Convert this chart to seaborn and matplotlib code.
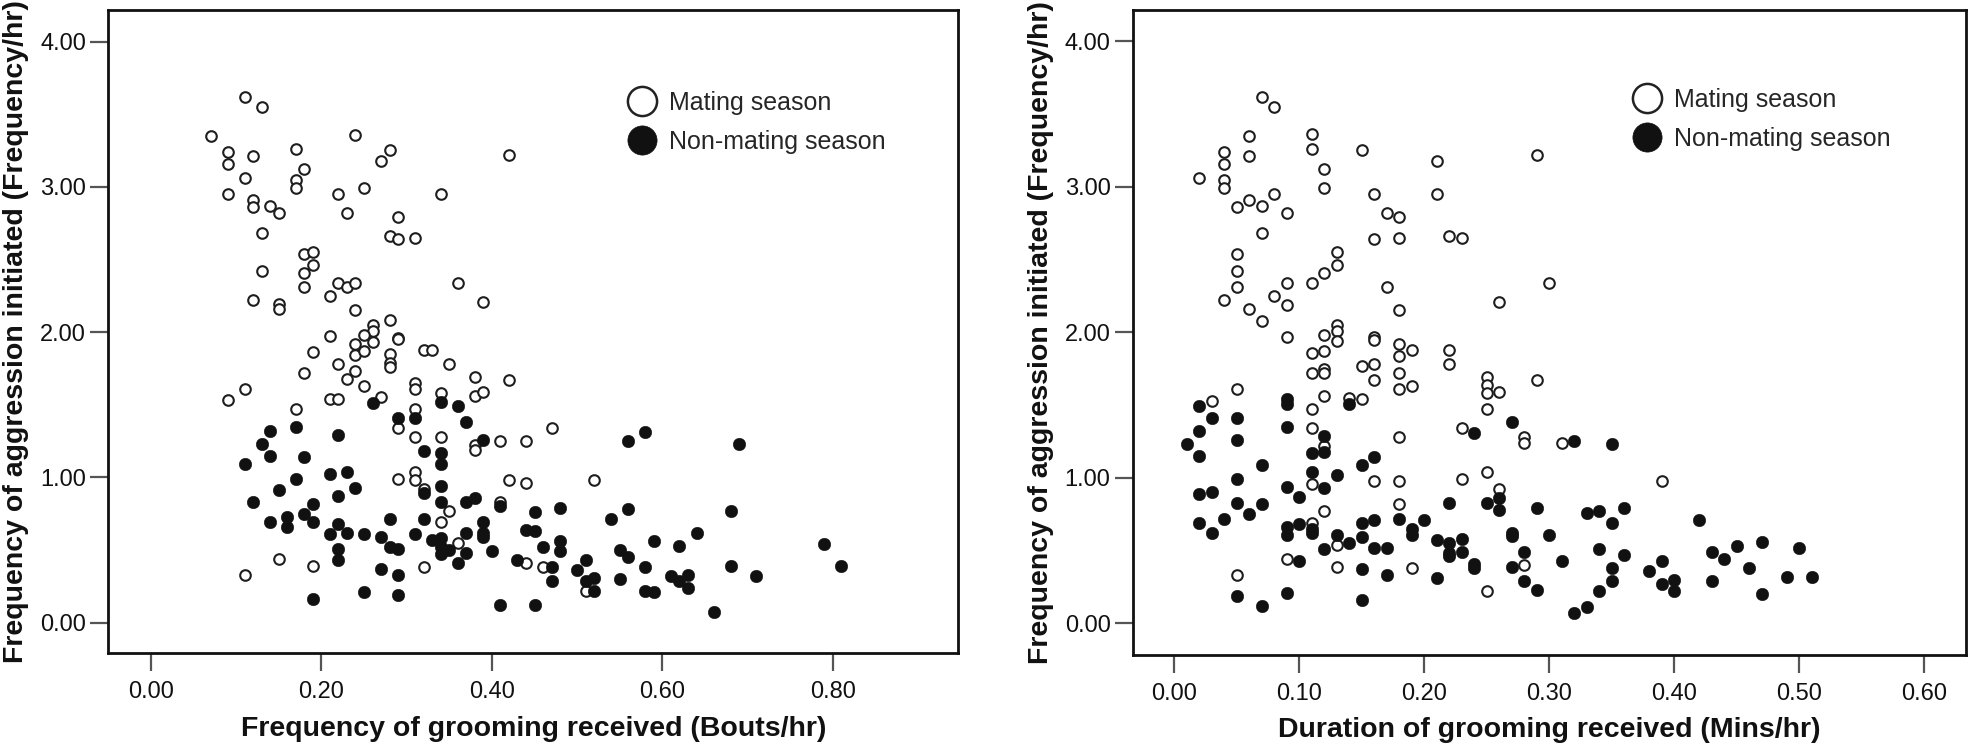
import numpy as np
import pandas as pd
import matplotlib
matplotlib.use("Agg")
import matplotlib.pyplot as plt
import seaborn as sns
from matplotlib.lines import Line2D

sns.set_style("white")
plt.rcParams['font.family'] = ['Liberation Sans', 'DejaVu Sans']

# ---------------- data: left panel (grooming frequency) ----------------
left_mating_x = [0.110, 0.130, 0.070, 0.240, 0.090, 0.120, 0.170, 0.280, 0.270, 0.420, 0.090, 0.180,
                 0.110, 0.170, 0.170, 0.090, 0.220, 0.250, 0.340, 0.120, 0.120, 0.140, 0.150, 0.230,
                 0.290, 0.130, 0.280, 0.290, 0.310, 0.180, 0.190, 0.190, 0.180, 0.130, 0.180, 0.220,
                 0.230, 0.240, 0.360, 0.210, 0.390, 0.120, 0.150, 0.150, 0.240, 0.280, 0.260, 0.260,
                 0.250, 0.210, 0.290, 0.290, 0.240, 0.260, 0.190, 0.240, 0.250, 0.280, 0.320, 0.330,
                 0.220, 0.180, 0.240, 0.230, 0.280, 0.280, 0.350, 0.250, 0.380, 0.380, 0.390, 0.420,
                 0.310, 0.310, 0.270, 0.210, 0.220, 0.340, 0.090, 0.110, 0.170, 0.310, 0.290, 0.310,
                 0.340, 0.380, 0.380, 0.410, 0.290, 0.310, 0.310, 0.320, 0.420, 0.410, 0.350, 0.340,
                 0.360, 0.150, 0.190, 0.320, 0.110, 0.470, 0.440, 0.440, 0.520, 0.440, 0.460, 0.510]
left_mating_y = [3.62, 3.55, 3.35, 3.36, 3.24, 3.21, 3.26, 3.25, 3.18, 3.22, 3.16, 3.12,
                 3.06, 3.05, 2.99, 2.95, 2.95, 2.99, 2.95, 2.91, 2.86, 2.87, 2.82, 2.82,
                 2.79, 2.68, 2.66, 2.64, 2.65, 2.54, 2.55, 2.46, 2.41, 2.42, 2.31, 2.34,
                 2.31, 2.34, 2.34, 2.25, 2.21, 2.22, 2.19, 2.16, 2.15, 2.08, 2.05, 2.01,
                 1.98, 1.97, 1.96, 1.95, 1.92, 1.93, 1.86, 1.84, 1.87, 1.85, 1.88, 1.88,
                 1.78, 1.72, 1.73, 1.68, 1.79, 1.76, 1.78, 1.63, 1.69, 1.56, 1.59, 1.67,
                 1.65, 1.61, 1.55, 1.54, 1.54, 1.58, 1.53, 1.61, 1.47, 1.47, 1.34, 1.28,
                 1.28, 1.22, 1.19, 1.25, 0.99, 1.04, 0.98, 0.92, 0.98, 0.83, 0.77, 0.69,
                 0.55, 0.44, 0.39, 0.38, 0.33, 1.34, 1.25, 0.96, 0.98, 0.41, 0.38, 0.22]

left_nonmating_x = [0.260, 0.340, 0.360, 0.290, 0.310, 0.370, 0.170, 0.220, 0.140, 0.130, 0.140, 0.180,
                    0.110, 0.320, 0.340, 0.340, 0.390, 0.210, 0.230, 0.170, 0.240, 0.150, 0.340, 0.320,
                    0.220, 0.120, 0.190, 0.340, 0.370, 0.380, 0.410, 0.180, 0.140, 0.160, 0.160, 0.190,
                    0.220, 0.280, 0.320, 0.210, 0.230, 0.250, 0.270, 0.310, 0.370, 0.390, 0.390, 0.390,
                    0.280, 0.290, 0.330, 0.340, 0.340, 0.350, 0.340, 0.370, 0.400, 0.220, 0.220, 0.360,
                    0.430, 0.270, 0.290, 0.250, 0.290, 0.190, 0.410,
                    0.560, 0.580, 0.690, 0.450, 0.480, 0.560, 0.540, 0.680, 0.440, 0.450, 0.460, 0.480,
                    0.480, 0.590, 0.620, 0.640, 0.790, 0.470, 0.500, 0.510, 0.510, 0.520, 0.520, 0.470,
                    0.550, 0.560, 0.550, 0.580, 0.580, 0.590, 0.610, 0.620, 0.630, 0.630, 0.680, 0.710,
                    0.810, 0.450, 0.660]
left_nonmating_y = [1.51, 1.52, 1.49, 1.41, 1.41, 1.38, 1.35, 1.29, 1.32, 1.23, 1.15, 1.14,
                    1.09, 1.18, 1.17, 1.09, 1.26, 1.02, 1.04, 0.99, 0.93, 0.91, 0.94, 0.89,
                    0.87, 0.83, 0.82, 0.83, 0.83, 0.86, 0.80, 0.75, 0.69, 0.73, 0.66, 0.69,
                    0.68, 0.71, 0.71, 0.61, 0.62, 0.61, 0.59, 0.61, 0.62, 0.69, 0.62, 0.59,
                    0.52, 0.51, 0.57, 0.58, 0.52, 0.50, 0.47, 0.48, 0.49, 0.51, 0.43, 0.41,
                    0.43, 0.37, 0.33, 0.21, 0.19, 0.16, 0.12,
                    1.25, 1.31, 1.23, 0.76, 0.79, 0.78, 0.71, 0.77, 0.64, 0.63, 0.52, 0.56,
                    0.49, 0.56, 0.53, 0.62, 0.54, 0.38, 0.36, 0.43, 0.29, 0.31, 0.22, 0.29,
                    0.50, 0.45, 0.30, 0.38, 0.22, 0.21, 0.32, 0.29, 0.33, 0.24, 0.39, 0.32,
                    0.39, 0.12, 0.07]

# ---------------- data: right panel (grooming duration) ----------------
right_mating_x = [0.070, 0.080, 0.060, 0.110, 0.040, 0.060, 0.110, 0.150, 0.210, 0.040, 0.120, 0.020,
                  0.040, 0.040, 0.060, 0.050, 0.070, 0.080, 0.120, 0.160, 0.210, 0.090, 0.170, 0.180,
                  0.070, 0.160, 0.180, 0.220, 0.230, 0.050, 0.130, 0.130, 0.120, 0.050, 0.090, 0.110,
                  0.050, 0.170, 0.260, 0.040, 0.080, 0.090, 0.060, 0.180, 0.070, 0.130, 0.130, 0.120,
                  0.130, 0.090, 0.160, 0.160, 0.180, 0.190, 0.220, 0.110, 0.120,
                  0.180, 0.220, 0.110, 0.120, 0.120, 0.150, 0.160, 0.160, 0.180, 0.180, 0.190, 0.250,
                  0.250, 0.250, 0.260, 0.250, 0.050, 0.030, 0.120, 0.140, 0.150, 0.110, 0.110, 0.120,
                  0.180, 0.230, 0.160, 0.180, 0.230, 0.250, 0.260, 0.110, 0.180, 0.120, 0.110, 0.130,
                  0.090, 0.130, 0.190, 0.050, 0.250,
                  0.290, 0.300, 0.290, 0.280, 0.280, 0.310, 0.390, 0.280]
right_mating_y = [3.62, 3.55, 3.35, 3.36, 3.24, 3.21, 3.26, 3.25, 3.18, 3.16, 3.12, 3.06,
                  3.05, 2.99, 2.91, 2.86, 2.87, 2.95, 2.99, 2.95, 2.95, 2.82, 2.82, 2.79,
                  2.68, 2.64, 2.65, 2.66, 2.65, 2.54, 2.55, 2.46, 2.41, 2.42, 2.34, 2.34,
                  2.31, 2.31, 2.21, 2.22, 2.25, 2.19, 2.16, 2.15, 2.08, 2.05, 2.01, 1.98,
                  1.94, 1.97, 1.97, 1.95, 1.92, 1.88, 1.88, 1.86, 1.87,
                  1.84, 1.78, 1.72, 1.75, 1.72, 1.77, 1.78, 1.67, 1.72, 1.61, 1.63, 1.69,
                  1.64, 1.58, 1.59, 1.47, 1.61, 1.53, 1.56, 1.55, 1.54, 1.47, 1.34, 1.22,
                  1.28, 1.34, 0.98, 0.98, 0.99, 1.04, 0.92, 0.96, 0.82, 0.77, 0.69, 0.54,
                  0.44, 0.39, 0.38, 0.33, 0.22,
                  3.22, 2.34, 1.67, 1.28, 1.24, 1.24, 0.98, 0.40]

right_nonmating_x = [0.020, 0.030, 0.020, 0.010, 0.020, 0.050, 0.050, 0.090, 0.090, 0.090, 0.140, 0.120,
                     0.120, 0.110, 0.070, 0.150, 0.160, 0.240, 0.270, 0.110, 0.130, 0.050, 0.020, 0.030,
                     0.090, 0.120, 0.100, 0.050, 0.070, 0.060, 0.040, 0.020, 0.030, 0.220, 0.250, 0.260,
                     0.260, 0.090, 0.090, 0.100, 0.110, 0.110, 0.130, 0.140, 0.120, 0.150, 0.160, 0.150,
                     0.160, 0.170, 0.180, 0.190, 0.190, 0.200, 0.210, 0.220, 0.220, 0.220, 0.230, 0.230,
                     0.240, 0.240, 0.270, 0.270, 0.270, 0.100, 0.150, 0.170, 0.210, 0.050, 0.070, 0.090,
                     0.150,
                     0.320, 0.350, 0.290, 0.330, 0.340, 0.360, 0.350, 0.420, 0.300, 0.280, 0.310, 0.280,
                     0.290, 0.340, 0.360, 0.350, 0.350, 0.340, 0.330, 0.320, 0.380, 0.390, 0.390, 0.400,
                     0.400, 0.430, 0.440, 0.450, 0.460, 0.470, 0.430, 0.470, 0.490, 0.500, 0.510]
right_nonmating_y = [1.49, 1.41, 1.32, 1.23, 1.15, 1.41, 1.26, 1.54, 1.51, 1.35, 1.51, 1.29,
                     1.18, 1.17, 1.09, 1.09, 1.14, 1.31, 1.38, 1.04, 1.02, 0.99, 0.89, 0.90,
                     0.94, 0.93, 0.87, 0.83, 0.82, 0.75, 0.72, 0.69, 0.62, 0.83, 0.83, 0.86,
                     0.78, 0.66, 0.61, 0.68, 0.65, 0.62, 0.61, 0.55, 0.51, 0.69, 0.71, 0.59,
                     0.52, 0.52, 0.72, 0.65, 0.61, 0.71, 0.57, 0.55, 0.48, 0.46, 0.58, 0.49,
                     0.41, 0.38, 0.62, 0.60, 0.39, 0.43, 0.37, 0.33, 0.31, 0.19, 0.12, 0.21,
                     0.16,
                     1.25, 1.23, 0.79, 0.76, 0.77, 0.79, 0.69, 0.71, 0.61, 0.49, 0.43, 0.29,
                     0.23, 0.51, 0.47, 0.38, 0.29, 0.22, 0.11, 0.07, 0.36, 0.43, 0.27, 0.30,
                     0.22, 0.49, 0.44, 0.53, 0.38, 0.56, 0.29, 0.20, 0.32, 0.52, 0.32]

y_ticks = [0.0, 1.0, 2.0, 3.0, 4.0]
left_x_ticks = [0.0, 0.2, 0.4, 0.6, 0.8]
right_x_ticks = [0.0, 0.1, 0.2, 0.3, 0.4, 0.5, 0.6]
legend_labels = ["Mating season", "Non-mating season"]
y_label = "Frequency of aggression initiated (Frequency/hr)"
left_x_label = "Frequency of grooming received (Bouts/hr)"
right_x_label = "Duration of grooming received (Mins/hr)"

# ---------------- figure ----------------
fig = plt.figure(figsize=(19.71, 7.54), dpi=100)
ax1 = fig.add_axes([0.0549, 0.13355, 0.4313, 0.85319])
ax2 = fig.add_axes([0.5747, 0.13130, 0.4228, 0.85544])

EDGE = "#1e1e1e"
FILL = "#111111"


def draw(ax, mx, my, nx, ny, xticks, xlim, ylim, xlabel, leg_anchor):
    dm = pd.DataFrame({"x": mx, "y": my})
    dn = pd.DataFrame({"x": nx, "y": ny})
    sns.scatterplot(data=dm, x="x", y="y", ax=ax, marker="o", s=58,
                    color="white", edgecolor=EDGE, linewidth=1.5, zorder=3)
    sns.scatterplot(data=dn, x="x", y="y", ax=ax, marker="o", s=82,
                    color=FILL, edgecolor=FILL, linewidth=0.3, zorder=3)
    ax.set_xlim(*xlim)
    ax.set_ylim(*ylim)
    ax.set_xticks(xticks)
    ax.set_yticks(y_ticks)
    ax.set_xticklabels([f"{t:.2f}" for t in xticks])
    ax.set_yticklabels([f"{t:.2f}" for t in y_ticks])
    ax.tick_params(axis="both", which="major", direction="out", length=13, width=1.6,
                   color="#555555", labelsize=17, labelcolor="#111111",
                   bottom=True, left=True, top=False, right=False)
    ax.tick_params(axis="x", pad=7)
    ax.tick_params(axis="y", pad=3)
    for sp in ax.spines.values():
        sp.set_visible(True)
        sp.set_color("#111111")
        sp.set_linewidth(2.0)
    ax.set_xlabel(xlabel, fontsize=20.5, fontweight="bold", labelpad=9, color="#111111")
    ax.set_ylabel(y_label, fontsize=20.5, fontweight="bold", labelpad=8, color="#111111")
    handles = [
        Line2D([0], [0], marker="o", linestyle="none", markersize=21,
               markerfacecolor="white", markeredgecolor="#222222", markeredgewidth=1.8),
        Line2D([0], [0], marker="o", linestyle="none", markersize=21,
               markerfacecolor=FILL, markeredgecolor=FILL, markeredgewidth=0.5),
    ]
    ax.legend(handles, legend_labels, loc="center left", bbox_to_anchor=leg_anchor,
              frameon=False, fontsize=18, borderpad=0, borderaxespad=0,
              handlelength=1.18, handletextpad=0.48, labelspacing=0.6)


draw(ax1, left_mating_x, left_mating_y, left_nonmating_x, left_nonmating_y,
     left_x_ticks, (-0.050, 0.947), (-0.211, 4.217), left_x_label, (0.611, 0.825))
draw(ax2, right_mating_x, right_mating_y, right_nonmating_x, right_nonmating_y,
     right_x_ticks, (-0.0333, 0.6335), (-0.218, 4.215), right_x_label, (0.600, 0.831))

fig.savefig("out.png", dpi=100, facecolor="white")
